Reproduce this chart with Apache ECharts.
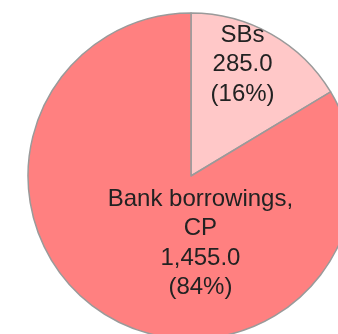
<!DOCTYPE html>
<html>
<head>
<meta charset="utf-8">
<style>
  html, body { margin: 0; padding: 0; background: #ffffff; }
  #chart { width: 338px; height: 334px; }
</style>
<script src="https://cdn.jsdelivr.net/npm/echarts@6/dist/echarts.min.js"></script>
</head>
<body>
<div id="chart"></div>
<script>
// Funding sources (amounts)
const categories = ['SBs', 'Bank borrowings,\nCP'];
const values = [285.0, 1455.0];
const sliceColors = ['#FFC8C8', '#FF8080'];
// Label nudges relative to the default inside position
const labelShift = [[10, -38], [51, -6]];

function fmtAmount(v) {
  const parts = v.toFixed(1).split('.');
  parts[0] = parts[0].replace(/\B(?=(\d{3})+(?!\d))/g, ',');
  return parts.join('.');
}

const chart = echarts.init(document.getElementById('chart'), null, { renderer: 'canvas' });
chart.setOption({
  animation: false,
  backgroundColor: '#ffffff',
  series: [{
    type: 'pie',
    center: [191, 176],
    radius: [0, 163],
    startAngle: 90,
    clockwise: true,
    avoidLabelOverlap: false,
    itemStyle: { borderColor: '#9a9a9a', borderWidth: 1.5 },
    label: {
      show: true,
      position: 'inside',
      fontFamily: 'Liberation Sans, Arial, sans-serif',
      fontSize: 24,
      lineHeight: 29.5,
      color: '#222222',
      align: 'center',
      formatter: p => p.name + '\n' + fmtAmount(p.value) + '\n(' + Math.round(p.percent) + '%)'
    },
    labelLine: { show: false },
    labelLayout: p => ({ dx: labelShift[p.dataIndex][0], dy: labelShift[p.dataIndex][1] }),
    emphasis: { disabled: true },
    data: categories.map((c, i) => ({ name: c, value: values[i], itemStyle: { color: sliceColors[i] } }))
  }]
});
</script>
</body>
</html>
